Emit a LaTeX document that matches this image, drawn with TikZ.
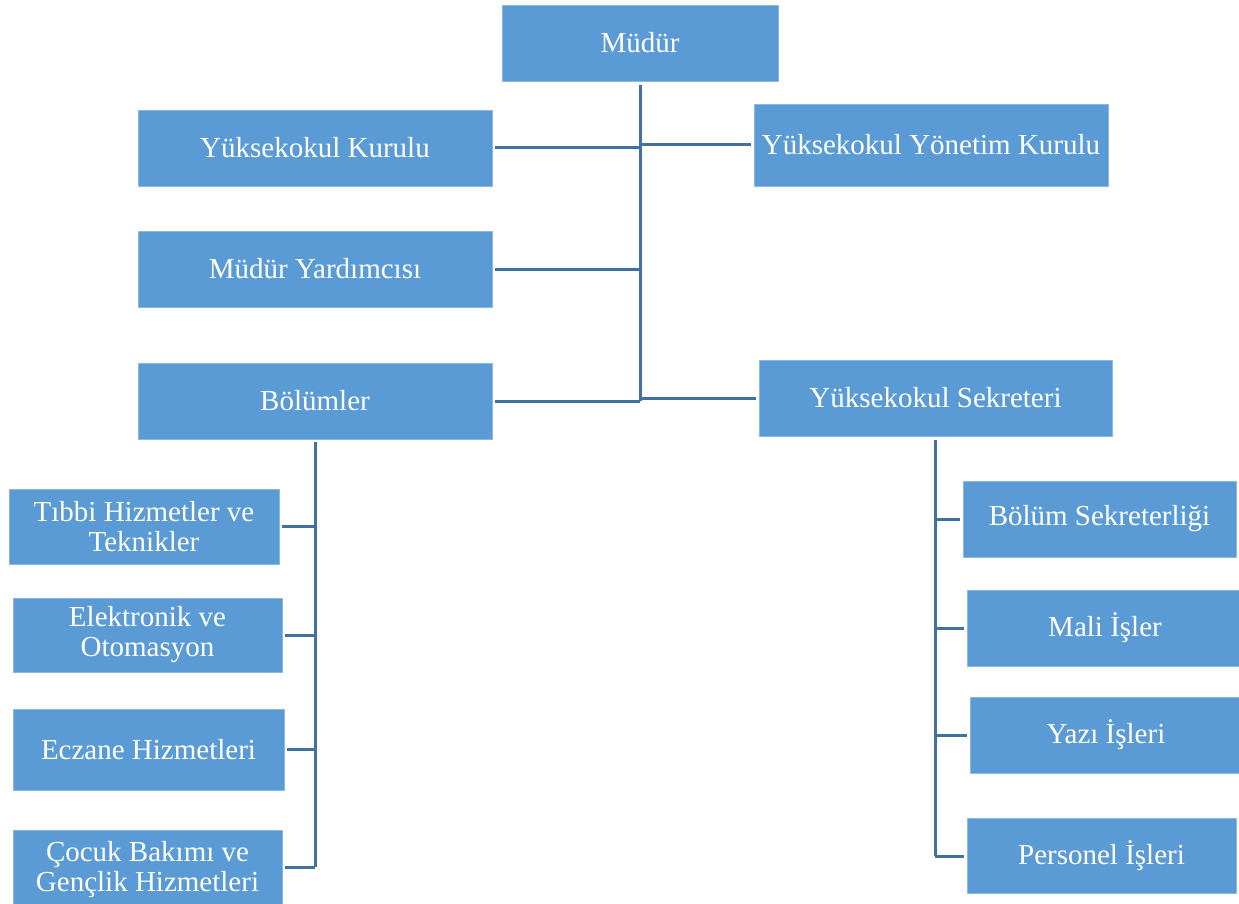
\documentclass[tikz,border=0pt]{standalone}
\usepackage{fontspec}
\setmainfont{Liberation Serif}
\definecolor{boxblue}{HTML}{5B9BD5}
\definecolor{lineblue}{HTML}{41719C}
\begin{document}
\begin{tikzpicture}[x=1pt,y=-1pt,
  box/.style={rectangle, fill=boxblue, draw=boxblue!70!white, line width=0.6pt, inner sep=0pt, text=white, align=center,
    font=\fontsize{29}{30}\selectfont},
  conn/.style={draw=lineblue, line width=3pt}]
\useasboundingbox (0,0) rectangle (1239,904);
\fill[white] (0,0) rectangle (1239,904);
% boxes: helper macro-free, explicit sizes
\node[box, minimum width=276pt, minimum height=76pt] (mudur) at (640,43) {Müdür};
\node[box, minimum width=354pt, minimum height=76pt] (kurulu) at (315,148) {Yüksekokul Kurulu};
\node[box, minimum width=354pt, minimum height=82pt] (yonetim) at (931,145) {Yüksekokul Yönetim Kurulu};
\node[box, minimum width=354pt, minimum height=76pt] (yard) at (315,269) {Müdür Yardımcısı};
\node[box, minimum width=354pt, minimum height=76pt] (bolumler) at (315,401) {Bölümler};
\node[box, minimum width=353pt, minimum height=76pt] (sekreter) at (935.5,398) {Yüksekokul Sekreteri};
% left column
\node[box, minimum width=270pt, minimum height=75pt] (tibbi) at (144,526.5) {Tıbbi Hizmetler ve\\Teknikler};
\node[box, minimum width=269pt, minimum height=74pt] (elek) at (147.5,635) {Elektronik ve\\Otomasyon};
\node[box, minimum width=271pt, minimum height=81pt] (eczane) at (148.5,749.5) {Eczane Hizmetleri};
\node[box, minimum width=269pt, minimum height=80pt] (cocuk) at (147.5,870) {Çocuk Bakımı ve\\Gençlik Hizmetleri};
% right column
\node[box, minimum width=273pt, minimum height=76pt] (bsek) at (1099.5,519) {Bölüm Sekreterliği};
\node[box, minimum width=276pt, minimum height=76pt] (mali) at (1105,628) {Mali İşler};
\node[box, minimum width=272pt, minimum height=76pt] (yazi) at (1106,735) {Yazı İşleri};
\node[box, minimum width=269pt, minimum height=75pt] (pers) at (1101.5,855.5) {Personel İşleri};
% spines
\coordinate (mtop) at (640,85);
\coordinate (mbot) at (640,401);
\coordinate (ltop) at (315,442);
\coordinate (lbot) at (315,867);
\coordinate (rtop) at (935,440);
\coordinate (rbot) at (935,856);
\draw[conn] (mtop) -- (mbot);
\draw[conn] ([xshift=3pt]kurulu.east) -- (kurulu.east -| mtop);
\draw[conn] (mtop |- yonetim.west) -- ([xshift=-3pt]yonetim.west);
\draw[conn] ([xshift=3pt]yard.east) -- (yard.east -| mtop);
\draw[conn] ([xshift=3pt]bolumler.east) -- (mbot);
\draw[conn] (mtop |- sekreter.west) -- ([xshift=-3pt]sekreter.west);
% left spine
\draw[conn] (ltop) -- (lbot);
\draw[conn] ([xshift=3pt]tibbi.east) -- (tibbi.east -| ltop);
\draw[conn] ([xshift=3pt]elek.east) -- (elek.east -| ltop);
\draw[conn] ([xshift=3pt]eczane.east) -- (eczane.east -| ltop);
\draw[conn] ([xshift=3pt]cocuk.east |- lbot) -- (lbot);
% right spine
\draw[conn] (rtop) -- (rbot);
\draw[conn] (rtop |- bsek.west) -- ([xshift=-3pt]bsek.west);
\draw[conn] (rtop |- mali.west) -- ([xshift=-3pt]mali.west);
\draw[conn] (rtop |- yazi.west) -- ([xshift=-3pt]yazi.west);
\draw[conn] (rbot) -- ([xshift=-3pt]pers.west |- rbot);
\end{tikzpicture}
\end{document}
